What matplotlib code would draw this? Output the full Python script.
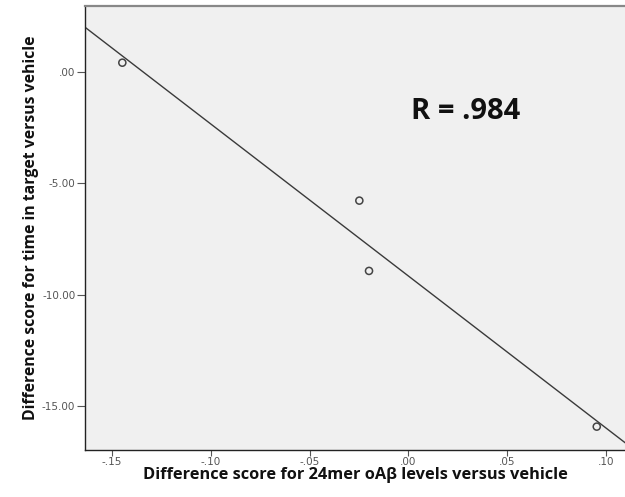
import numpy as np
import matplotlib
matplotlib.use("Agg")
import matplotlib.pyplot as plt

# values
oab_diff = [-0.1448, -0.0248, -0.0199, 0.0954]
time_diff = [0.43, -5.77, -8.93, -15.93]

x_ticks = [-0.15, -0.10, -0.05, 0.00, 0.05, 0.10]
x_tick_labels = ["-.15", "-.10", "-.05", ".00", ".05", ".10"]
y_ticks = [0.0, -5.0, -10.0, -15.0]
y_tick_labels = [".00", "-5.00", "-10.00", "-15.00"]

x_label = "Difference score for 24mer oAβ levels versus vehicle"
y_label = "Difference score for time in target versus vehicle"
r_text = "R = .984"

XLIM = (-0.1637, 0.1097)
YLIM = (-16.98, 2.98)

fig = plt.figure(figsize=(6.25, 4.97), dpi=100)
ax = fig.add_axes([0.136, 0.0946, 0.864, 0.8934])
ax.set_facecolor("#f0f0f0")

# least squares fit line across the full x range
slope, intercept = np.polyfit(oab_diff, time_diff, 1)
xs = np.array(XLIM)
ax.plot(xs, slope * xs + intercept, color="#3a3a3a", lw=1.0, zorder=2)

ax.scatter(oab_diff, time_diff, s=26, facecolors="none",
           edgecolors="#444444", linewidths=1.1, zorder=3)

ax.text(0.603, 0.762, r_text, transform=ax.transAxes, fontsize=21,
        fontweight="bold", family="Open Sans", color="#111111",
        ha="left", va="center")

ax.set_xlim(*XLIM)
ax.set_ylim(*YLIM)
ax.set_xticks(x_ticks)
ax.set_xticklabels(x_tick_labels)
ax.set_yticks(y_ticks)
ax.set_yticklabels(y_tick_labels)
ax.tick_params(axis="both", labelsize=7.5, colors="#555555", width=0.8)
ax.tick_params(axis="x", length=4, pad=1)
ax.tick_params(axis="y", length=6, pad=1)

for side in ["left", "bottom"]:
    ax.spines[side].set_color("#222222")
    ax.spines[side].set_linewidth(1.0)
ax.spines["top"].set_color("#888888")
ax.spines["top"].set_linewidth(1.6)
ax.spines["right"].set_visible(False)

ax.set_xlabel(x_label, fontsize=11.8, fontweight="bold", family="Open Sans",
              color="#111111", labelpad=0)
ax.set_ylabel(y_label, fontsize=11.3, fontweight="bold", family="Open Sans",
              color="#111111", labelpad=2)

fig.savefig("out.png", dpi=100)
